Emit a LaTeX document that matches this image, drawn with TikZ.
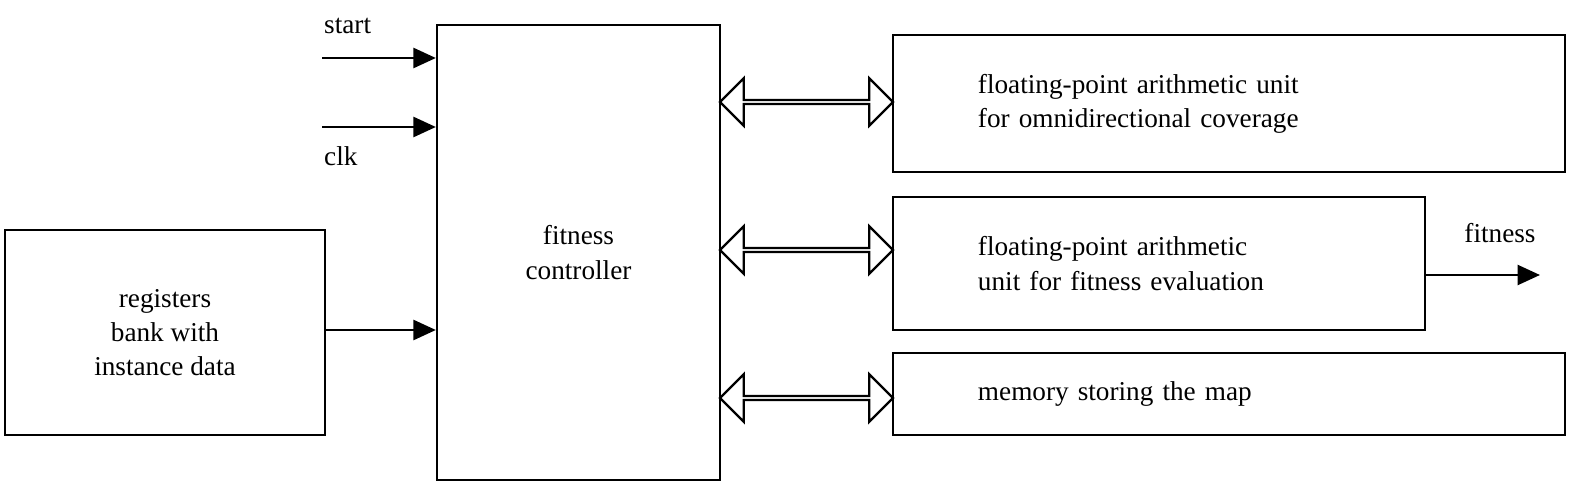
\documentclass[tikz,border=0pt]{standalone}
\usepackage{fontspec}
\setmainfont{Liberation Serif}
\usetikzlibrary{arrows.meta,shapes.arrows}
\begin{document}
\begin{tikzpicture}[x=0.02cm,y=-0.02cm,
  box/.style={draw,line width=1.3pt,inner sep=0pt,align=center,font=\fontsize{15.5pt}{19.5pt}\selectfont},
  rbox/.style={box,align=left,text width=#1*0.02cm,minimum width=#1*0.02cm},
  arr/.style={line width=1.5pt,-{Triangle[length=0.45cm,width=0.4cm]}},
  dbl/.style={draw,line width=1.3pt,double arrow,minimum height=3.46cm,minimum width=0.95cm,double arrow head extend=0.25cm,inner sep=0pt,double arrow tip angle=90},
  lbl/.style={font=\fontsize{15.5pt}{19.5pt}\selectfont}]
\node[box,minimum width=283*0.02cm,minimum height=455*0.02cm] (fc) at (578.5,252.5) {fitness\\controller};
\node[box,minimum width=320*0.02cm,minimum height=205*0.02cm] (rb) at (165,332.5) {registers\\bank with\\instance data};
\node[rbox=672,minimum height=137*0.02cm] (u1) at (1229,103.5) {\hspace*{1.7cm}floating-point arithmetic unit\\\hspace*{1.7cm}for omnidirectional coverage};
\node[rbox=532,minimum height=133*0.02cm] (u2) at (1159,263.5) {\hspace*{1.7cm}floating-point arithmetic\\\hspace*{1.7cm}unit for fitness evaluation};
\node[rbox=672,minimum height=82*0.02cm] (u3) at (1229,394) {\hspace*{1.7cm}memory storing the map};
\coordinate (s0) at (322,58); \coordinate (c0) at (322,127);
\node[lbl,anchor=south west] (st) at (318,40) {start};
\node[lbl,anchor=north west] (ck) at (318,140) {clk};
\draw[arr] (s0) -- (s0 -| fc.west);
\draw[arr] (c0) -- (c0 -| fc.west);
\draw[arr] (rb.east |- 0,330) -- (fc.west |- 0,330);
\coordinate (f1) at (1540,275);
\draw[arr] (u2.east |- f1) -- (f1);
\node[lbl] (fl) at (1500,233) {fitness};
\node[dbl] (d1) at (806.5,102) {};
\node[dbl] (d2) at (806.5,250) {};
\node[dbl] (d3) at (806.5,398) {};
\pgfresetboundingbox
\useasboundingbox (0,0) rectangle (1590,493);
\end{tikzpicture}
\end{document}
